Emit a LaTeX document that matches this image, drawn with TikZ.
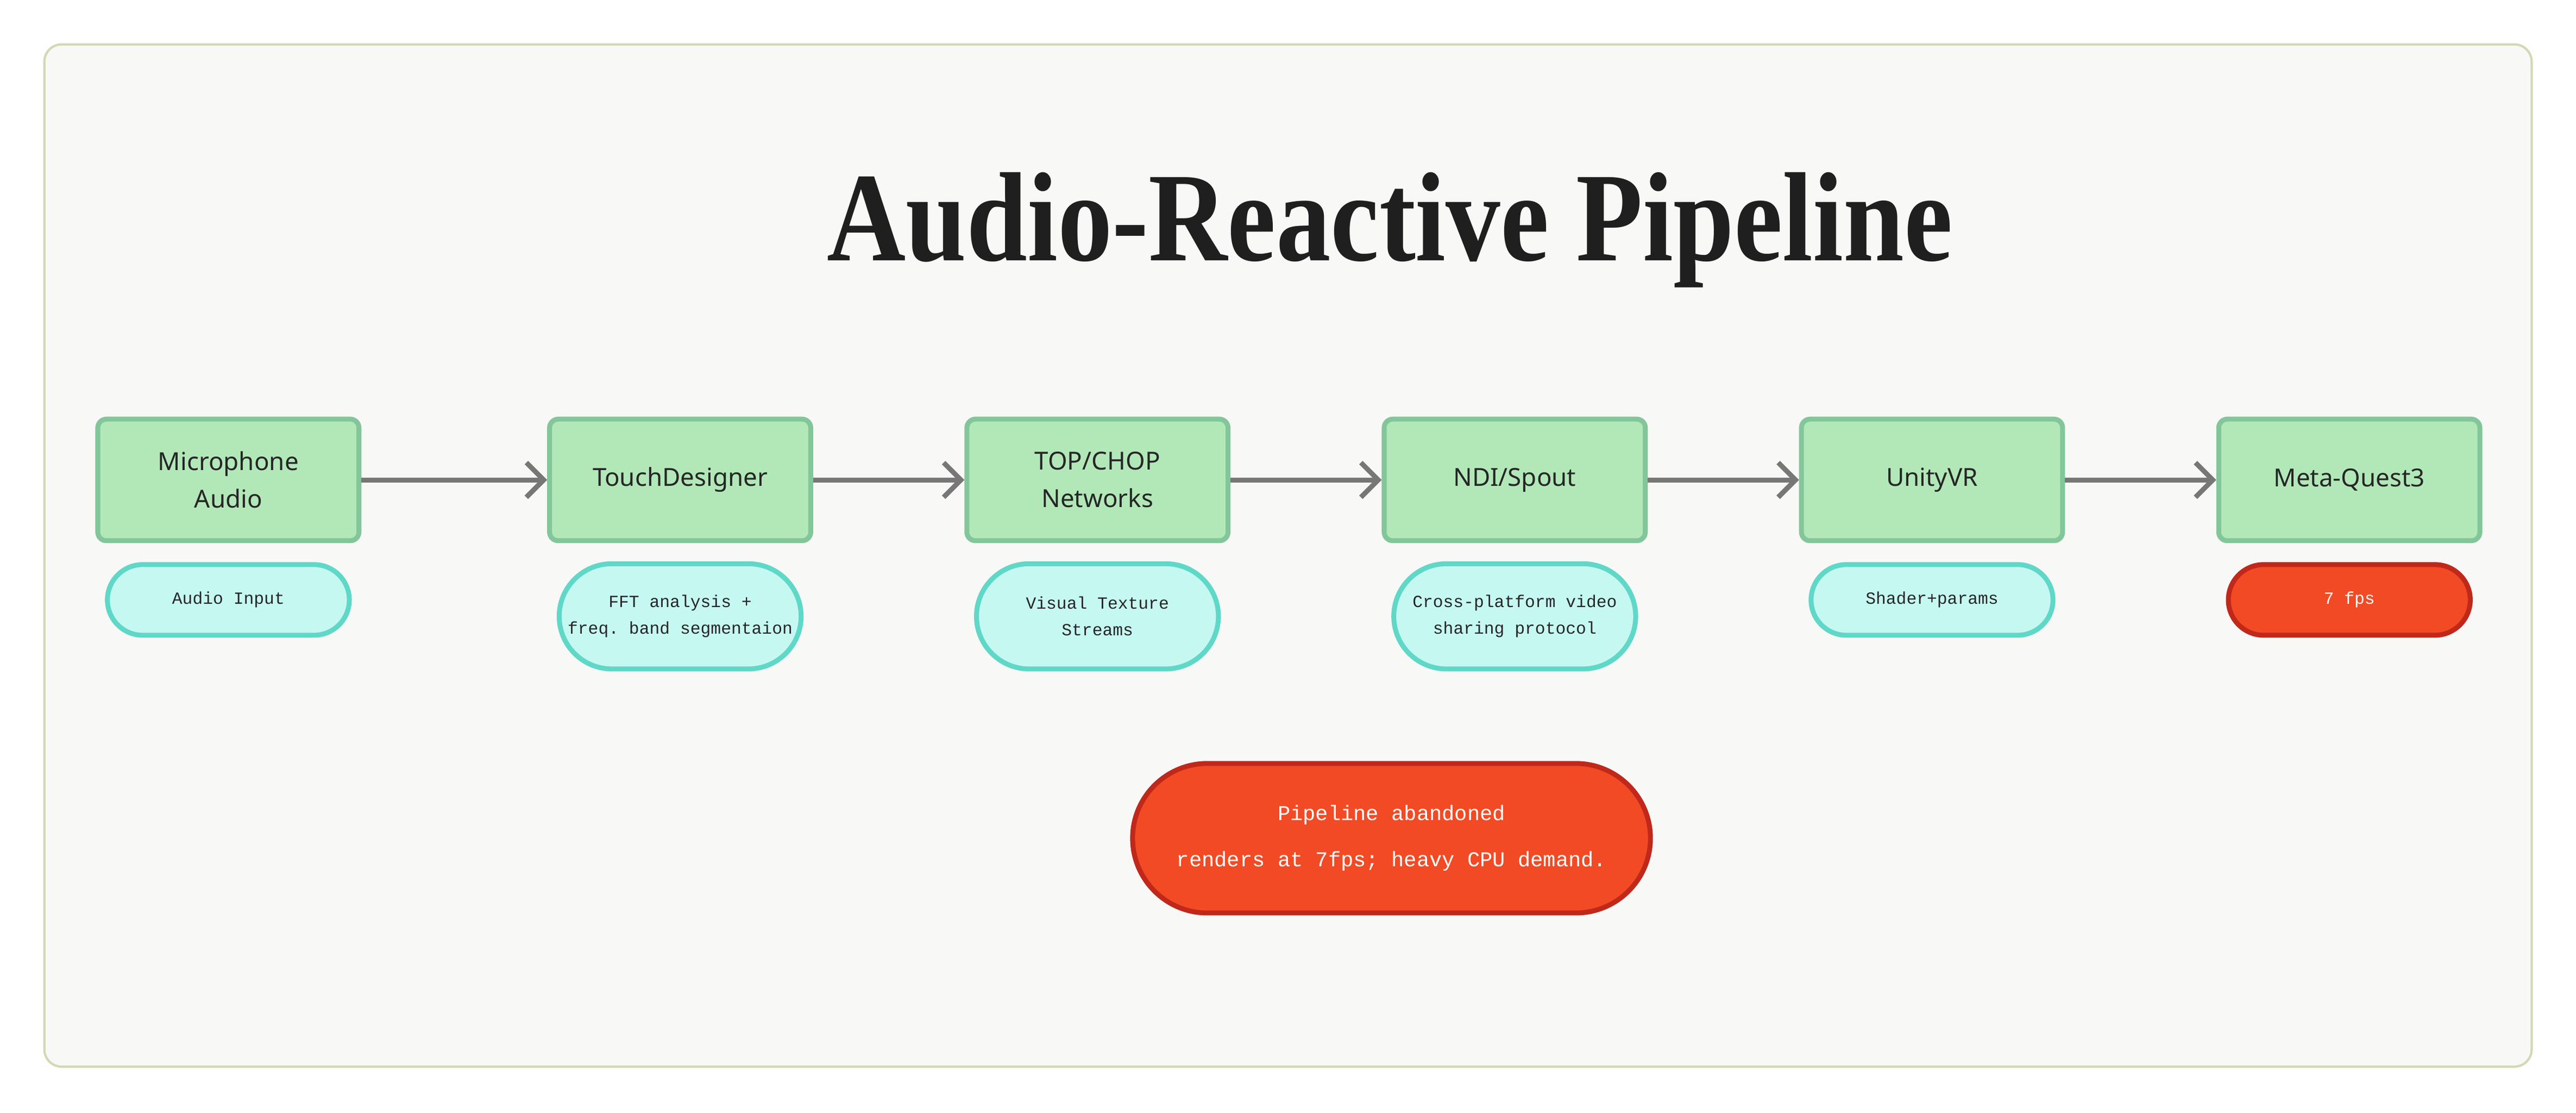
\documentclass[tikz,border=0pt]{standalone}
\usepackage{fontspec}
\setmainfont{Liberation Serif}
\setsansfont{Noto Sans}
\setmonofont{Liberation Mono}
\usetikzlibrary{shapes.geometric, shapes.misc, arrows.meta, positioning}
\usepackage{xcolor}
\definecolor{pagebg}{HTML}{F8F8F6}
\definecolor{frameline}{HTML}{D4D8B6}
\definecolor{stagefill}{HTML}{B2E8B8}
\definecolor{stageline}{HTML}{82C69A}
\definecolor{notefill}{HTML}{C6F8F2}
\definecolor{noteline}{HTML}{5FD8C8}
\definecolor{alertfill}{HTML}{F24A25}
\definecolor{alertline}{HTML}{C0281A}
\definecolor{flowgray}{HTML}{777777}

\begin{document}
\begin{tikzpicture}[x=0.02cm, y=-0.02cm,
        stage/.style={rectangle, rounded corners=3pt, draw=stageline, fill=stagefill, line width=1.7pt, minimum width=3.18cm, minimum height=1.48cm, align=center, font=\sffamily\fontsize{8.6}{13}\selectfont, text=black!85},
        note/.style={rounded rectangle, draw=noteline, fill=notefill, line width=1.7pt, minimum width=3.18cm, minimum height=0.86cm, align=center, font=\ttfamily\fontsize{5.9}{9.2}\selectfont, text=black!85},
        alert/.style={note, draw=alertline, fill=alertfill, text=white},
        flow/.style={-{Straight Barb[length=6pt, width=12pt]}, line width=1.7pt, draw=flowgray}
    ]
        % Frame
        \fill[white] (0,0) rectangle (1568,677);
        \draw[frameline, fill=pagebg, line width=0.8pt, rounded corners=6pt] (27,27) rectangle (1541,649);

        % Title
        \node[font=\bfseries\fontsize{44}{44}\selectfont, text=black!88] (title) at (846,140) {\scalebox{0.86}[1]{Audio-Reactive Pipeline}};

        % Stages
        \node[stage] (mic) at (139,292) {Microphone\\Audio};
        \node[stage] (td) at (414,292) {TouchDesigner};
        \node[stage] (top) at (668,292) {TOP/CHOP\\Networks};
        \node[stage] (ndi) at (922,292) {NDI/Spout};
        \node[stage] (unity) at (1176,292) {UnityVR};
        \node[stage] (quest) at (1430,292) {Meta-Quest3};

        % Notes
        \node[note] (micnote) at (139,365) {Audio Input};
        \node[note, minimum height=1.28cm] (tdnote) at (414,375) {FFT analysis +\\freq. band segmentaion};
        \node[note, minimum height=1.28cm] (topnote) at (668,375) {Visual Texture\\Streams};
        \node[note, minimum height=1.28cm] (ndinote) at (922,375) {Cross-platform video\\sharing protocol};
        \node[note] (unitynote) at (1176,365) {Shader+params};
        \node[alert] (questnote) at (1430,365) {7 fps};

        % Arrows
        \draw[flow] (mic) -- (td);
        \draw[flow] (td) -- (top);
        \draw[flow] (top) -- (ndi);
        \draw[flow] (ndi) -- (unity);
        \draw[flow] (unity) -- (quest);

        % Verdict
        \node[alert, minimum width=6.54cm, minimum height=1.82cm, font=\ttfamily\fontsize{7.3}{16}\selectfont] (verdict) at (847,510) {Pipeline abandoned\\renders at 7fps; heavy CPU demand.};
    \end{tikzpicture}
\end{document}
